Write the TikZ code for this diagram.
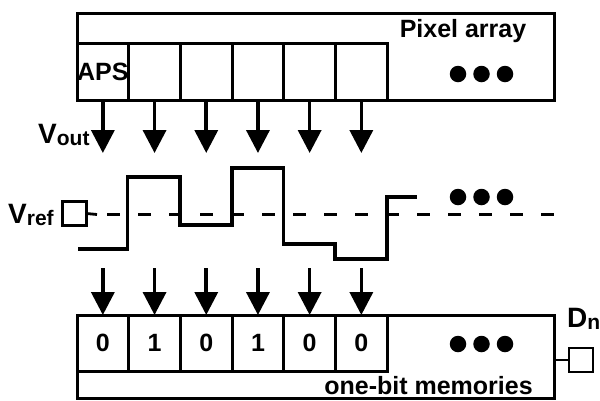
\documentclass[tikz,border=0pt]{standalone}
\usepackage{fontspec}
\setmainfont{Liberation Sans}
\usepackage{tikz}
\usetikzlibrary{arrows.meta, positioning}
\definecolor{apsink}{HTML}{000000}
\newcommand{\sublabel}[2]{{\fontsize{28}{28}\selectfont #1}\raisebox{-2pt}{\fontsize{21}{21}\selectfont #2}}
\tikzset{
  framebox/.style={
    draw=apsink,
    line width=3pt,
    inner sep=0pt,
    outer sep=0pt,
    minimum width=477pt
  },
  cellbox/.style={
    draw=apsink,
    line width=3pt,
    inner sep=0pt,
    outer sep=0pt,
    minimum width=51.7pt,
    minimum height=57pt,
    font=\bfseries\fontsize{25}{25}\selectfont
  },
  bitbox/.style={cellbox, minimum height=56pt},
  pinbox/.style={draw=apsink, line width=2.6pt, inner sep=0pt, outer sep=0pt, minimum size=24pt},
  bigdot/.style={circle, fill=apsink, inner sep=0pt, minimum size=16.5pt},
  labeltext/.style={
    font=\bfseries\fontsize{25}{25}\selectfont,
    text=apsink,
    inner sep=0pt
  },
  readarrow/.style={
    -{Triangle[length=23pt,width=23pt]},
    line width=3.6pt,
    draw=apsink
  },
  wire/.style={line width=2.8pt, draw=apsink},
  wavepath/.style={line width=3.6pt, draw=apsink},
  refline/.style={line width=2.4pt, draw=apsink, dash pattern=on 13pt off 18pt}
}

\begin{document}
\begin{tikzpicture}[x=1pt,y=-1pt]
\useasboundingbox (0,0) rectangle (600,400);

\node[framebox, minimum height=87pt] (pixarray) at (315.5,56.5) {};
\node[framebox, minimum height=83pt] (memarray) at (315.5,356.5) {};

\node[cellbox, anchor=south west] (pix1) at (77,100) {APS};
\node[cellbox, right=0pt of pix1] (pix2) {};
\node[cellbox, right=0pt of pix2] (pix3) {};
\node[cellbox, right=0pt of pix3] (pix4) {};
\node[cellbox, right=0pt of pix4] (pix5) {};
\node[cellbox, right=0pt of pix5] (pix6) {};

\node[bitbox, anchor=north west] (bit1) at (77,315) {0};
\node[bitbox, right=0pt of bit1] (bit2) {1};
\node[bitbox, right=0pt of bit2] (bit3) {0};
\node[bitbox, right=0pt of bit3] (bit4) {1};
\node[bitbox, right=0pt of bit4] (bit5) {0};
\node[bitbox, right=0pt of bit5] (bit6) {0};

\node[labeltext, anchor=base] (pixlabel) at (463,37) {Pixel array};
\node[labeltext, anchor=base] (memlabel) at (428.5,394) {one-bit memories};
\node[labeltext, anchor=base west] (voutlabel) at (38,143) {\sublabel{V}{out}};
\node[labeltext, anchor=base west] (vreflabel) at (8,223) {\sublabel{V}{ref}};
\node[labeltext, anchor=base west] (dnlabel) at (567,327) {\sublabel{D}{n}};

\node[pinbox] (vrefpin) at (74.5,213.5) {};
\node[pinbox] (dnpin) at (581,360) {};

\node[bigdot] (pixdot1) at (458,74) {};
\node[bigdot] (pixdot2) at (481.5,74) {};
\node[bigdot] (pixdot3) at (505,74) {};
\node[bigdot] (wavedot1) at (458,197) {};
\node[bigdot] (wavedot2) at (481.5,197) {};
\node[bigdot] (wavedot3) at (505,197) {};
\node[bigdot] (memdot1) at (458,344) {};
\node[bigdot] (memdot2) at (481.5,344) {};
\node[bigdot] (memdot3) at (505,344) {};

\coordinate (vouttip) at (0,153);
\coordinate (memtail) at (0,268);
\coordinate (refstub) at (97,214.5);
\coordinate (refstart) at (107,214.5);
\coordinate (refend) at (563,214.5);

\draw[readarrow] (pix1.south) -- (pix1.south |- vouttip);
\draw[readarrow] (pix2.south) -- (pix2.south |- vouttip);
\draw[readarrow] (pix3.south) -- (pix3.south |- vouttip);
\draw[readarrow] (pix4.south) -- (pix4.south |- vouttip);
\draw[readarrow] (pix5.south) -- (pix5.south |- vouttip);
\draw[readarrow] (pix6.south) -- (pix6.south |- vouttip);

\draw[readarrow] (bit1.north |- memtail) -- (bit1.north);
\draw[readarrow] (bit2.north |- memtail) -- (bit2.north);
\draw[readarrow] (bit3.north |- memtail) -- (bit3.north);
\draw[readarrow] (bit4.north |- memtail) -- (bit4.north);
\draw[readarrow] (bit5.north |- memtail) -- (bit5.north);
\draw[readarrow] (bit6.north |- memtail) -- (bit6.north);

\draw[wire] (vrefpin.east) -- (refstub);
\draw[refline] (refstart) -- (refend);
\draw[wire] (memarray.east |- dnpin.west) -- (dnpin.west);

\draw[wavepath] (78,249) -- (127.5,249) -- (127.5,177) -- (180,177)
  -- (180,225) -- (232,225) -- (232,168) -- (283.5,168) -- (283.5,244)
  -- (335,244) -- (335,259) -- (387,259) -- (387,197) -- (417,197);
\end{tikzpicture}
\end{document}
